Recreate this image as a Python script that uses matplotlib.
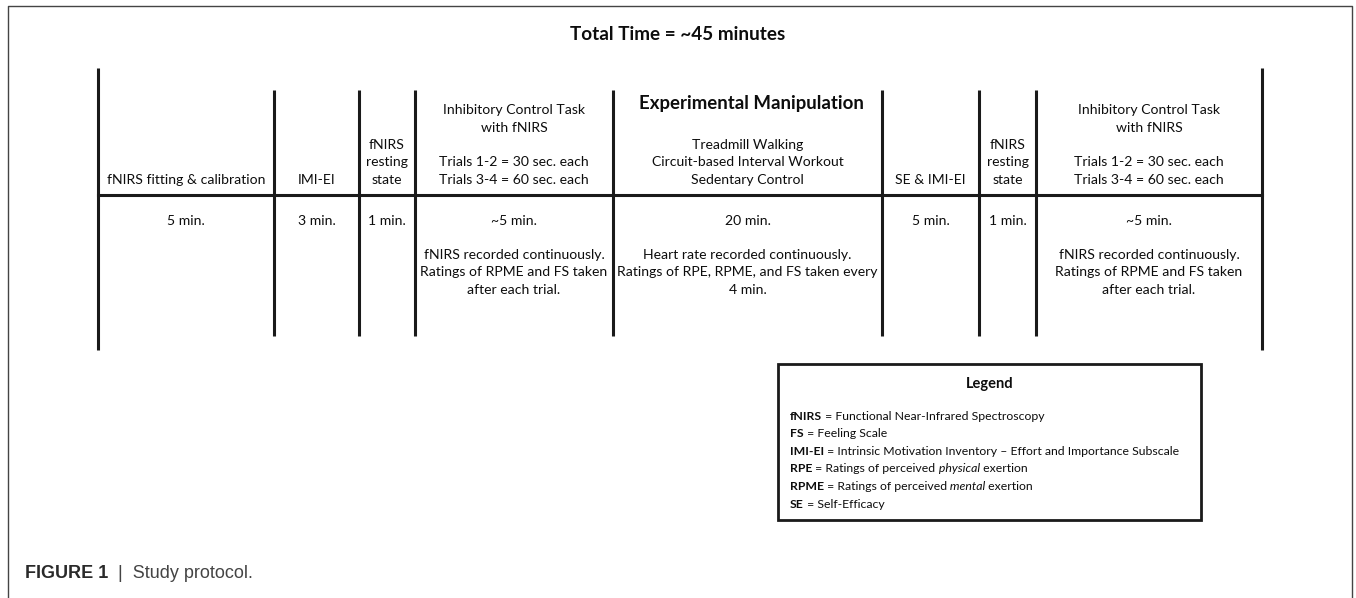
import matplotlib
matplotlib.use("Agg")
import matplotlib.pyplot as plt
from matplotlib.patches import Rectangle

# Step 1: the protocol table content
title = "Total Time = ~45 minutes"

col_edges = [98, 274, 359, 415, 613, 882, 979, 1036, 1262]

header_texts = [
    "fNIRS fitting & calibration",
    "IMI-EI",
    "fNIRS\nresting\nstate",
    "Inhibitory Control Task\nwith fNIRS\n\nTrials 1-2 = 30 sec. each\nTrials 3-4 = 60 sec. each",
    "Treadmill Walking\nCircuit-based Interval Workout\nSedentary Control",
    "SE & IMI-EI",
    "fNIRS\nresting\nstate",
    "Inhibitory Control Task\nwith fNIRS\n\nTrials 1-2 = 30 sec. each\nTrials 3-4 = 60 sec. each",
]
header_bold = ["", "", "", "", "Experimental Manipulation", "", "", ""]

duration_texts = ["5 min.", "3 min.", "1 min.", "~5 min.", "20 min.", "5 min.", "1 min.", "~5 min."]

note_texts = [
    "",
    "",
    "",
    "fNIRS recorded continuously.\nRatings of RPME and FS taken\nafter each trial.",
    "Heart rate recorded continuously.\nRatings of RPE, RPME, and FS taken every\n4 min.",
    "",
    "",
    "fNIRS recorded continuously.\nRatings of RPME and FS taken\nafter each trial.",
]

# legend entries: (text, style) pieces
legend_entries = [
    [("fNIRS", "bold"), (" = Functional Near-Infrared Spectroscopy", "normal")],
    [("FS", "bold"), (" = Feeling Scale", "normal")],
    [("IMI-EI", "bold"), (" = Intrinsic Motivation Inventory \u2013 Effort and Importance Subscale", "normal")],
    [("RPE", "bold"), (" = Ratings of perceived", "normal"), (" physical", "italic"), (" exertion", "normal")],
    [("RPME", "bold"), (" = Ratings of perceived", "normal"), (" mental", "italic"), (" exertion", "normal")],
    [("SE", "bold"), (" = Self-Efficacy", "normal")],
]

caption_bold = "FIGURE 1"
caption_text = "|  Study protocol."

# Step 2: figure in pixel coordinates
W, H = 1356, 598
fig = plt.figure(figsize=(W / 100, H / 100), dpi=100)
ax = fig.add_axes([0, 0, 1, 1])
ax.set_xlim(0, W)
ax.set_ylim(H, 0)
ax.axis("off")

font = "Lato"
ink = "#0d0d0d"
fs = 10.1
ls = 1.55

# outer frame (open at the bottom)
ax.plot([8, 8, 1352, 1352], [H, 6, 6, H], color="#444444", lw=1.0)

ax.text(W / 2, 34, title, ha="center", va="center", fontsize=13.6, fontweight="bold",
        family=font, color=ink)

# table lines
top_outer, bot_outer = 68, 350
top_inner, bot_inner = 90, 336
mid_y = 195
for i, x in enumerate(col_edges):
    if i == 0 or i == len(col_edges) - 1:
        ax.plot([x, x], [top_outer, bot_outer], color="#1a1a1a", lw=2.2, solid_capstyle="butt")
    else:
        ax.plot([x, x], [top_inner, bot_inner], color="#1a1a1a", lw=2.2, solid_capstyle="butt")
ax.plot([col_edges[0], col_edges[-1]], [mid_y, mid_y], color="#1a1a1a", lw=2.2)

for i in range(len(header_texts)):
    cx = (col_edges[i] + col_edges[i + 1]) / 2
    ax.text(cx, 186, header_texts[i], ha="center", va="bottom", multialignment="center",
            fontsize=fs, family=font, color=ink, linespacing=ls)
    if header_bold[i]:
        ax.text(cx + 4, 103, header_bold[i], ha="center", va="center", fontsize=13.4,
                fontweight="bold", family=font, color=ink)
    ax.text(cx, 221, duration_texts[i], ha="center", va="center", fontsize=fs,
            family=font, color=ink)
    if note_texts[i]:
        ax.text(cx, 249, note_texts[i], ha="center", va="top", multialignment="center",
                fontsize=fs, family=font, color=ink, linespacing=ls)

# Step 3: legend box
ax.add_patch(Rectangle((778, 364), 1201 - 778, 520 - 364, fill=False, ec="#1a1a1a", lw=2.0))
ax.text(990, 384, "Legend", ha="center", va="center", fontsize=10.5, fontweight="bold",
        family=font, color=ink)
for k, pieces in enumerate(legend_entries):
    y = 416 + k * 17.6
    prev = None
    for txt, style in pieces:
        kw = dict(fontsize=8.8, family=font, color=ink, va="center")
        if style == "bold":
            kw["fontweight"] = "bold"
        elif style == "italic":
            kw["fontstyle"] = "italic"
        if prev is None:
            prev = ax.text(790, y, txt, ha="left", **kw)
        else:
            prev = ax.annotate(txt, xy=(1, 0.5), xycoords=prev, ha="left", **kw)

# Step 4: caption
cap = ax.text(25, 573, caption_bold, ha="left", va="center", fontsize=13, fontweight="bold",
              family="Liberation Sans", color="#2a2a2a")
ax.annotate("  " + caption_text, xy=(1, 0.5), xycoords=cap, ha="left", va="center",
            fontsize=13, family="Liberation Sans", color="#444444")

fig.savefig("out.png", dpi=100)
